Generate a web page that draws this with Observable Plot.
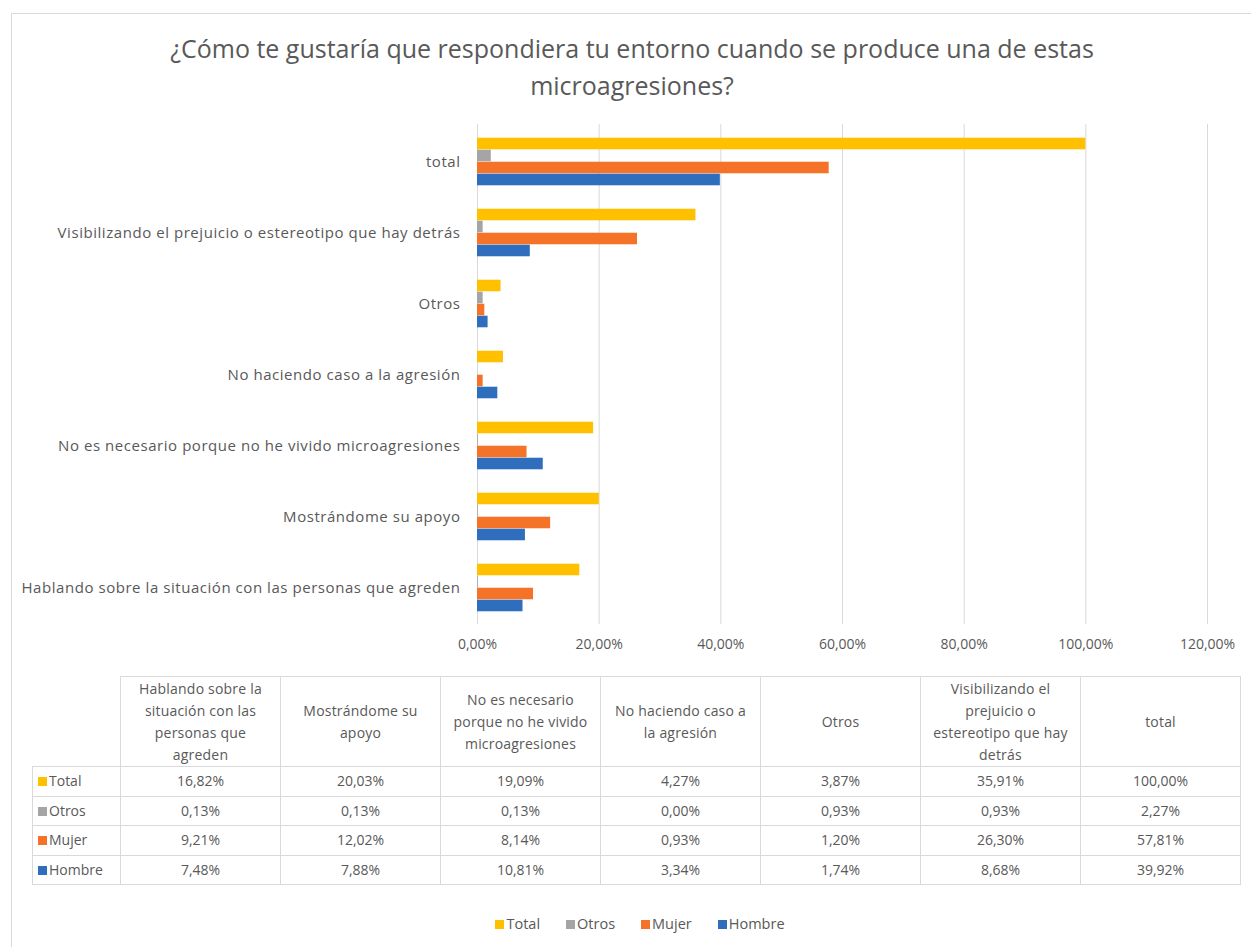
<!DOCTYPE html>
<html>
<head>
<meta charset="utf-8">
<script src="https://cdn.jsdelivr.net/npm/d3@7"></script>
<script src="https://cdn.jsdelivr.net/npm/@observablehq/plot@0.6"></script>
<style>
  html, body { margin: 0; padding: 0; background: #fff; }
  body { font-family: "Open Sans", sans-serif; color: #595959; }
  #page { position: relative; width: 1251px; height: 947px; overflow: hidden; }
  #frame { position: absolute; left: 11px; top: 13px; width: 1270px; height: 980px; border: 1px solid #d9d9d9; box-sizing: border-box; }
  #title { position: absolute; left: 100px; width: 1064px; top: 30px; text-align: center; font-size: 25px; line-height: 37px; color: #595959; }
  #chart { position: absolute; left: 0; top: 110px; }
  #tbl { position: absolute; left: 32px; top: 676px; border-collapse: collapse; table-layout: fixed; font-size: 14px; color: #595959; }
  #tbl td { border: 1px solid #d9d9d9; text-align: center; padding: 0 2px; height: 28.5px; line-height: 20px; }
  #tbl tr.head td { height: 89px; line-height: 22px; letter-spacing: 0.2px; }
  #tbl td.blank { border: none; }
  #tbl td.rl { text-align: left; padding-left: 5px; white-space: nowrap; }
  .sw { display: inline-block; width: 9px; height: 9px; margin-right: 2px; vertical-align: 0px; }
  #legend { position: absolute; top: 914px; left: 0; width: 1280px; text-align: center; font-size: 14.5px; color: #595959; }
  #legend span.item { margin: 0 13px; }
</style>
</head>
<body>
<div id="page">
  <div id="frame"></div>
  <div id="title">¿Cómo te gustaría que respondiera tu entorno cuando se produce una de estas<br>microagresiones?</div>
  <div id="chart"></div>
  <table id="tbl"></table>
  <div id="legend"></div>
</div>
<script>
// Categories in table order (left to right); chart shows them bottom to top
const categories = [
  "Hablando sobre la situación con las personas que agreden",
  "Mostrándome su apoyo",
  "No es necesario porque no he vivido microagresiones",
  "No haciendo caso a la agresión",
  "Otros",
  "Visibilizando el prejuicio o estereotipo que hay detrás",
  "total"
];
// table header text, wrapped as in the reference
const tableHeaders = [
  ["Hablando sobre la", "situación con las", "personas que", "agreden"],
  ["Mostrándome su", "apoyo"],
  ["No es necesario", "porque no he vivido", "microagresiones"],
  ["No haciendo caso a", "la agresión"],
  ["Otros"],
  ["Visibilizando el", "prejuicio o", "estereotipo que hay", "detrás"],
  ["total"]
];
const seriesNames = ["Total", "Otros", "Mujer", "Hombre"];
const seriesColors = ["#FFC000", "#A5A5A5", "#F47328", "#2F6DBD"];
const totalValues  = [16.82, 20.03, 19.09, 4.27, 3.87, 35.91, 100.00];
const otrosValues  = [0.13, 0.13, 0.13, 0.00, 0.93, 0.93, 2.27];
const mujerValues  = [9.21, 12.02, 8.14, 0.93, 1.20, 26.30, 57.81];
const hombreValues = [7.48, 7.88, 10.81, 3.34, 1.74, 8.68, 39.92];
const seriesValues = [totalValues, otrosValues, mujerValues, hombreValues];
const xTicks = [0, 20, 40, 60, 80, 100, 120];

const fmt = v => v.toFixed(2).replace(".", ",") + "%";

const rows = categories.flatMap((c, i) =>
  seriesNames.map((s, j) => ({cat: c, series: s, value: seriesValues[j][i]}))
);

const plotH = 560, mTop = 14, mBottom = 46;
const step = (plotH - mTop - mBottom) / categories.length;
const bh = 12;
const off = (step - seriesNames.length * bh) / 2;

const marks = [
  Plot.ruleX(xTicks.slice(1), {stroke: "#d9d9d9", strokeWidth: 1}),
  Plot.ruleX([0], {stroke: "#d9d9d9", strokeWidth: 1})
];
seriesNames.forEach((s, j) => {
  marks.push(Plot.barX(rows.filter(d => d.series === s), {
    x: "value", y: "cat", fill: seriesColors[j],
    insetTop: off + j * bh,
    insetBottom: step - off - (j + 1) * bh
  }));
});

const chart = Plot.plot({
  width: 1251,
  height: plotH,
  marginLeft: 477,
  marginRight: 44,
  marginTop: mTop,
  marginBottom: mBottom,
  style: {fontFamily: "'Open Sans', sans-serif", fontSize: "14px", color: "#595959", background: "transparent"},
  x: {domain: [0, 120], ticks: xTicks, tickFormat: fmt, tickSize: 0, tickPadding: 15, label: null},
  y: {domain: categories.slice().reverse(), padding: 0, tickSize: 0, tickPadding: 17, label: null},
  marks
});
d3.select(chart).selectAll('[aria-label="y-axis tick label"], [aria-label="y-axis"]')
  .style("font-size", "15px").style("letter-spacing", "0.55px");
document.getElementById("chart").appendChild(chart);

// data table
const tbl = document.getElementById("tbl");
const colgroup = document.createElement("colgroup");
const c0 = document.createElement("col"); c0.style.width = "88px"; colgroup.appendChild(c0);
categories.forEach(() => { const c = document.createElement("col"); c.style.width = "160px"; colgroup.appendChild(c); });
tbl.appendChild(colgroup);
const head = document.createElement("tr"); head.className = "head";
const blank = document.createElement("td"); blank.className = "blank"; head.appendChild(blank);
tableHeaders.forEach(lines => {
  const td = document.createElement("td");
  lines.forEach((l, k) => { if (k) td.appendChild(document.createElement("br")); td.appendChild(document.createTextNode(l)); });
  head.appendChild(td);
});
tbl.appendChild(head);
seriesNames.forEach((s, j) => {
  const tr = document.createElement("tr");
  const th = document.createElement("td"); th.className = "rl";
  th.innerHTML = `<span class="sw" style="background:${seriesColors[j]}"></span>${s}`;
  tr.appendChild(th);
  seriesValues[j].forEach(v => { const td = document.createElement("td"); td.textContent = fmt(v); tr.appendChild(td); });
  tbl.appendChild(tr);
});

// legend
document.getElementById("legend").innerHTML = seriesNames.map((s, j) =>
  `<span class="item"><span class="sw" style="background:${seriesColors[j]}"></span>${s}</span>`).join("");
</script>
</body>
</html>
